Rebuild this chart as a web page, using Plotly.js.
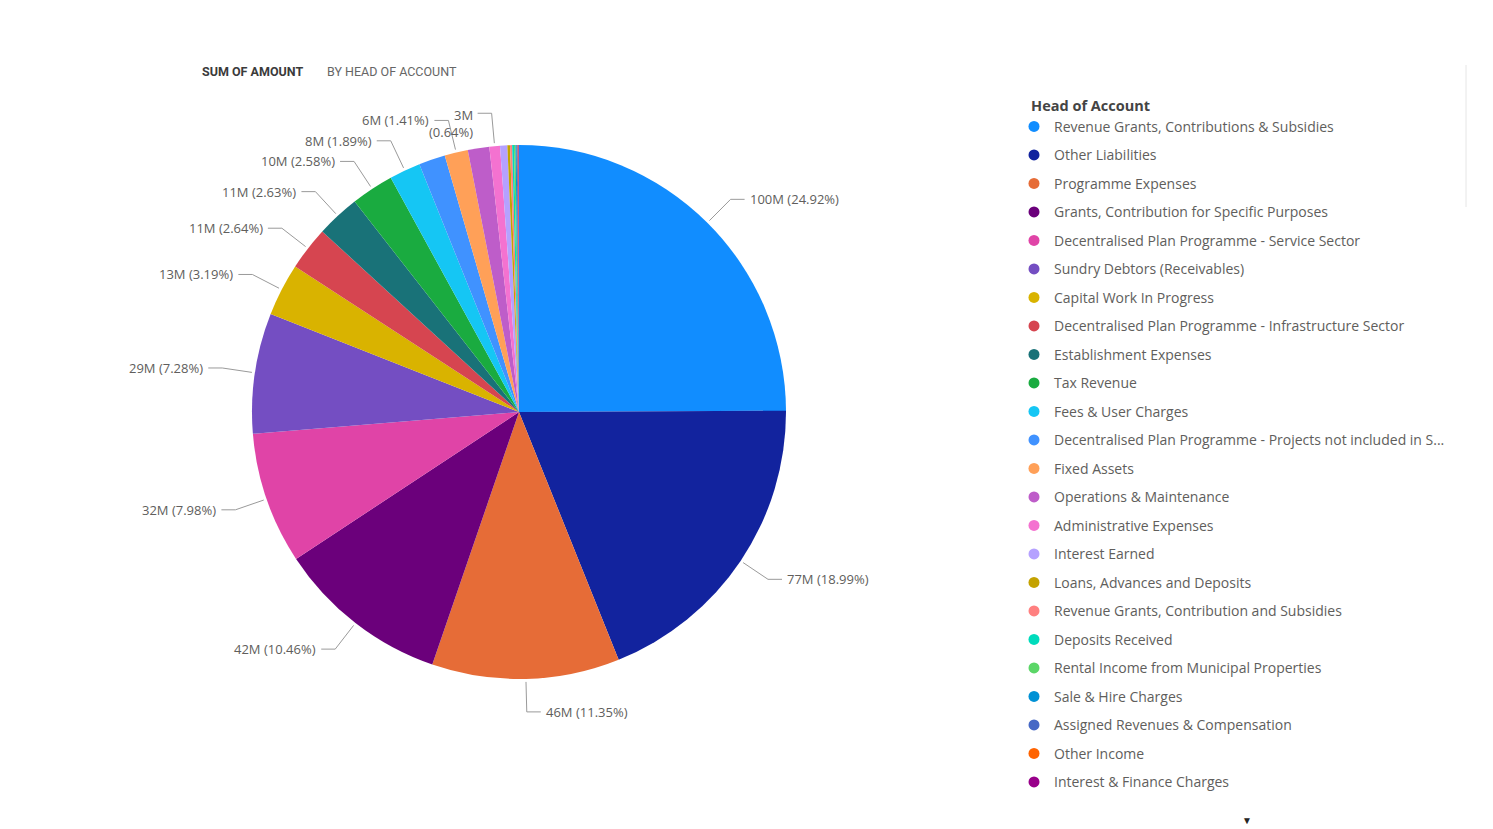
<!DOCTYPE html>
<html><head><meta charset="utf-8">
<script src="https://cdn.plot.ly/plotly-3.0.1.min.js"></script>
<style>html,body{margin:0;padding:0;background:#fff;} #chart{width:1493px;height:829px;}</style>
</head><body><div id="chart"></div>
<script>
// ---- data ----
const categories = [
  "Revenue Grants, Contributions & Subsidies",
  "Other Liabilities",
  "Programme Expenses",
  "Grants, Contribution for Specific Purposes",
  "Decentralised Plan Programme - Service Sector",
  "Sundry Debtors (Receivables)",
  "Capital Work In Progress",
  "Decentralised Plan Programme - Infrastructure Sector",
  "Establishment Expenses",
  "Tax Revenue",
  "Fees & User Charges",
  "Decentralised Plan Programme - Projects not included in S...",
  "Fixed Assets",
  "Operations & Maintenance",
  "Administrative Expenses",
  "Interest Earned",
  "Loans, Advances and Deposits",
  "Revenue Grants, Contribution and Subsidies",
  "Deposits Received",
  "Rental Income from Municipal Properties",
  "Sale & Hire Charges",
  "Assigned Revenues & Compensation",
  "Other Income",
  "Interest & Finance Charges"
];
// amounts in millions
const amounts = [100.40, 76.51, 45.73, 42.14, 32.15, 29.33, 12.85, 10.64, 10.60, 10.39,
                 7.61, 6.45, 5.68, 5.24, 2.58, 1.77, 0.64, 0.52, 0.44, 0.36, 0.28, 0.24, 0.20, 0.12];
const colors = ["#118DFF","#12239E","#E66C37","#6B007B","#E044A7","#744EC2","#D9B300","#D64550",
                "#197278","#1AAB40","#15C6F4","#4092FF","#FFA058","#BE5DC9","#F472D0","#B5A1FF",
                "#C4A200","#FF8080","#00DBBC","#5BD667","#0091D5","#4668C5","#FF6300","#99008A"];
// categories whose data label is shown in the reference
const labelledCategories = [
  "Revenue Grants, Contributions & Subsidies","Other Liabilities","Programme Expenses",
  "Grants, Contribution for Specific Purposes","Decentralised Plan Programme - Service Sector",
  "Sundry Debtors (Receivables)","Capital Work In Progress",
  "Decentralised Plan Programme - Infrastructure Sector","Establishment Expenses","Tax Revenue",
  "Fees & User Charges","Fixed Assets","Administrative Expenses"
];
const chartTitleBold = "SUM OF AMOUNT";
const chartTitleRest = "BY HEAD OF ACCOUNT";
const legendTitle = "Head of Account";

// ---- layout geometry ----
const W = 1493, H = 829;
const CX = 519, CY = 412, R = 267;
const ELBOW_R = 300, HSEG = 14;
const FONT = "'Segoe UI', 'Open Sans', 'Noto Sans', sans-serif";
const px = x => x / W, py = y => 1 - y / H;

const total = amounts.reduce((a, b) => a + b, 0);

const pie = {
  type: 'pie',
  labels: categories,
  values: amounts,
  sort: false,
  direction: 'clockwise',
  rotation: 0,
  marker: { colors: colors, line: { width: 0 } },
  textinfo: 'none',
  hoverinfo: 'label+value+percent',
  showlegend: false,
  domain: { x: [px(CX - R), px(CX + R)], y: [py(CY + R), py(CY - R)] }
};

// legend entries (circle markers), one per category
const legendTraces = categories.map((c, i) => ({
  type: 'scatter', mode: 'markers', x: [null], y: [null],
  name: c, legendgroup: 'g' + i, showlegend: true,
  marker: { color: colors[i], size: 11, symbol: 'circle' },
  hoverinfo: 'skip'
}));

// data labels with leader lines, computed from the data
const annotations = [];
const shapes = [];
let cum = 0;
amounts.forEach((v, i) => {
  const start = cum; cum += v;
  if (!labelledCategories.includes(categories[i])) return;
  const a = (start + v / 2) / total * 2 * Math.PI;
  const s = Math.sin(a), c = Math.cos(a);
  const e = [CX + (R + 3) * s, CY - (R + 3) * c];
  const k = [CX + ELBOW_R * s, CY - ELBOW_R * c];
  const right = s >= 0;
  const end = [k[0] + (right ? HSEG : -HSEG), k[1]];
  shapes.push({
    type: 'path', xref: 'paper', yref: 'paper',
    path: `M${px(e[0])},${py(e[1])} L${px(k[0])},${py(k[1])} L${px(end[0])},${py(end[1])}`,
    line: { color: '#9a9a9a', width: 1 }
  });
  const pct = (v / total * 100).toFixed(2);
  const mv = Math.round(v) + 'M';
  const small = v / total < 0.01;
  annotations.push({
    xref: 'paper', yref: 'paper',
    x: px(end[0] + (right ? 3 : -3)),
    y: small ? py(end[1] - 9) : py(end[1]),
    xanchor: right ? 'left' : 'right',
    yanchor: small ? 'top' : 'middle',
    align: right ? 'left' : 'right',
    text: small ? `${mv}<br>(${pct}%)` : `${mv} (${pct}%)`,
    showarrow: false,
    font: { family: FONT, size: 13, color: '#605E5C' }
  });
});

// title
annotations.push({
  xref: 'paper', yref: 'paper', x: px(200), y: py(71), xanchor: 'left', yanchor: 'middle',
  text: '<b>' + chartTitleBold + '</b>', showarrow: false,
  font: { family: "Roboto, 'DejaVu Sans', sans-serif", size: 12.5, color: '#3b3b3b' }
});
annotations.push({
  xref: 'paper', yref: 'paper', x: px(325), y: py(71), xanchor: 'left', yanchor: 'middle',
  text: chartTitleRest, showarrow: false,
  font: { family: "Roboto, 'DejaVu Sans', sans-serif", size: 12.5, color: '#666666' }
});
// legend scroll arrow
annotations.push({
  xref: 'paper', yref: 'paper', x: px(1247), y: py(820), xanchor: 'center', yanchor: 'middle',
  text: '▼', showarrow: false, font: { family: FONT, size: 10, color: '#252423' }
});
// thin visual frame line at right
shapes.push({ type: 'line', xref: 'paper', yref: 'paper', x0: px(1466), x1: px(1466), y0: py(65), y1: py(207),
  line: { color: '#e6e6e6', width: 1 } });

const layout = {
  width: W, height: H,
  margin: { l: 0, r: 0, t: 0, b: 0, pad: 0 },
  paper_bgcolor: '#ffffff', plot_bgcolor: '#ffffff',
  xaxis: { visible: false }, yaxis: { visible: false },
  showlegend: true,
  legend: {
    x: px(1014), y: py(92), xanchor: 'left', yanchor: 'top',
    traceorder: 'grouped', tracegroupgap: 7.3,
    font: { family: FONT, size: 14, color: '#605E5C' },
    title: { text: '&nbsp;&nbsp;&nbsp;&nbsp;<b>' + legendTitle + '</b>', font: { family: FONT, size: 14.5, color: '#444444' } },
    bgcolor: 'rgba(0,0,0,0)', borderwidth: 0
  },
  annotations: annotations,
  shapes: shapes
};

Plotly.newPlot('chart', [pie, ...legendTraces], layout, { displayModeBar: false, responsive: false });
</script>
</body></html>
